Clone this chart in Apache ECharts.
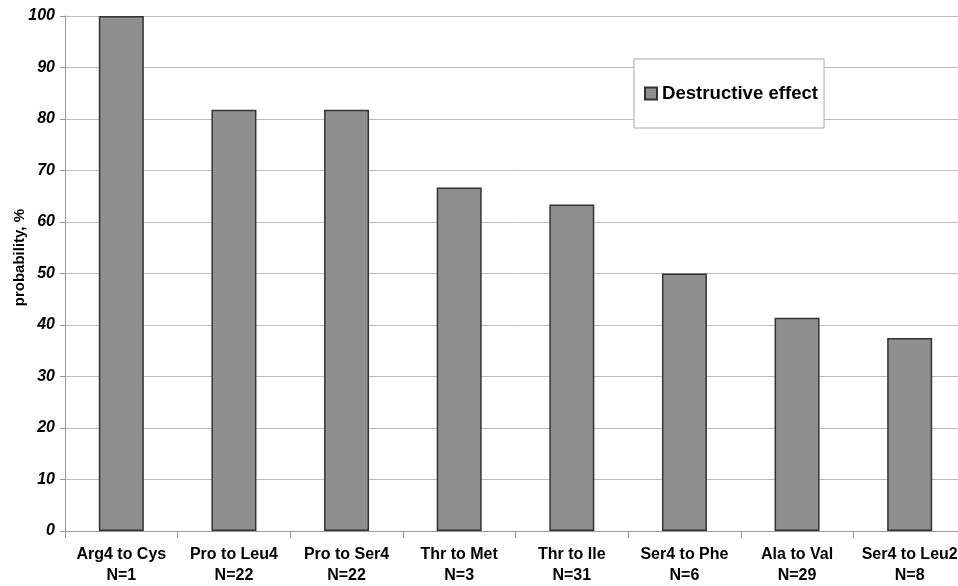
<!DOCTYPE html>
<html><head><meta charset="utf-8">
<script src="https://cdn.jsdelivr.net/npm/echarts@6/dist/echarts.min.js"></script>
<style>html,body{margin:0;padding:0;background:#fff;overflow:hidden;width:958px;height:586px}#c{width:966px;height:586px}</style>
</head><body><div id="c"></div>
<script>
const categories = ["Arg4 to Cys\nN=1","Pro to Leu4\nN=22","Pro to Ser4\nN=22","Thr to Met\nN=3","Thr to Ile\nN=31","Ser4 to Phe\nN=6","Ala to Val\nN=29","Ser4 to Leu2\nN=8"];
const destructive = [100, 81.8, 81.8, 66.7, 63.4, 50, 41.4, 37.5];
const seriesName = "Destructive effect";
const yAxisName = "probability, %";
const chart = echarts.init(document.getElementById('c'));
chart.setOption({
  animation:false,
  grid:{left:65,right:0,top:16,bottom:53,containLabel:false},
  legend:{
    show:true, left:634, top:59, orient:'vertical',
    backgroundColor:'#fff', borderColor:'#aaa', borderWidth:1,
    padding:[25,6,25,10], itemWidth:12, itemHeight:12, itemGap:6,
    textStyle:{fontFamily:'Liberation Sans, Arial',fontWeight:'bold',fontSize:18.6,color:'#000'},
    data:[{name:seriesName,icon:'rect'}]
  },
  graphic:[{type:'text',left:12,top:209,rotation:Math.PI/2,
    style:{text:yAxisName,fontFamily:'Liberation Sans, Arial',fontWeight:'bold',fontSize:15,fill:'#000'}}],
  xAxis:{type:'category',data:categories,
    axisLine:{lineStyle:{color:'#999'}},
    axisTick:{show:true,alignWithLabel:false,length:7,lineStyle:{color:'#999'}},
    axisLabel:{interval:0,fontFamily:'Liberation Sans, Arial',fontWeight:'bold',fontSize:16,color:'#000',lineHeight:21,margin:13}
  },
  yAxis:{type:'value',min:0,max:100,interval:10,
    axisLine:{show:true,lineStyle:{color:'#999'}},
    axisTick:{show:true,length:5,lineStyle:{color:'#999'}},
    splitLine:{lineStyle:{color:'#bbb',width:1}},
    axisLabel:{fontFamily:'Liberation Sans, Arial',fontWeight:'bold',fontStyle:'italic',fontSize:16,color:'#000',margin:10}
  },
  series:[{name:seriesName,type:'bar',data:destructive,barWidth:45,
    itemStyle:{color:'#8f8f8f',borderColor:'#333',borderWidth:1.5}}]
});
</script></body></html>
